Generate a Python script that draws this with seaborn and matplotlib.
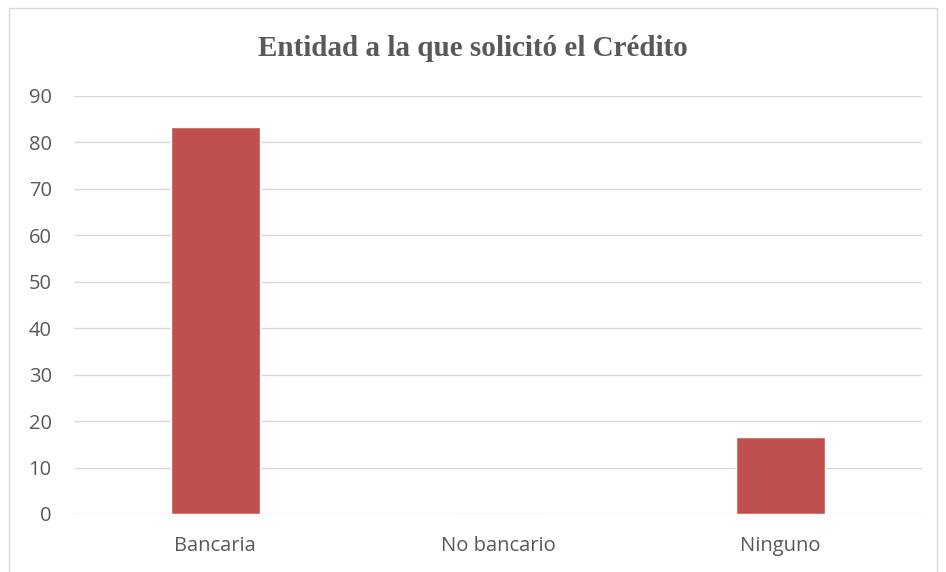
import matplotlib
matplotlib.use('Agg')
import matplotlib.pyplot as plt
import seaborn as sns
import pandas as pd
from matplotlib.patches import Rectangle

# data
categories = ['Bancaria', 'No bancario', 'Ninguno']
values = [83.33, 0.0, 16.67]
y_ticks = [0, 10, 20, 30, 40, 50, 60, 70, 80, 90]

df = pd.DataFrame({'Entidad': categories, 'Porcentaje': values})

sns.set_style('white')
plt.rcParams['font.family'] = ['Open Sans', 'DejaVu Sans']

fig = plt.figure(figsize=(9.46, 5.72), dpi=100)
ax = fig.add_axes([0.0782, 0.1014, 0.8964, 0.7308])

sns.barplot(data=df, x='Entidad', y='Porcentaje', color='#C0504D',
            width=0.315, saturation=1, ax=ax)

ax.set_ylim(0, 90)
ax.set_xlim(-0.5, 2.5)
ax.set_yticks(y_ticks)
ax.yaxis.grid(True, color='#D9D9D9', linewidth=1)
ax.set_axisbelow(True)
for s in ax.spines.values():
    s.set_visible(False)
ax.tick_params(axis='both', length=0, colors='#595959', labelsize=14.5)
ax.tick_params(axis='y', pad=16)
ax.tick_params(axis='x', pad=16)
ax.set_xlabel('')
ax.set_ylabel('')

fig.text(0.5, 0.916, 'Entidad a la que solicitó el Crédito', ha='center', va='center',
         fontsize=21, fontweight='bold', color='#595959', family='Liberation Serif')

# chart area border
fig.patches.append(Rectangle((9 / 946, -0.01), (937 - 9) / 946, 1 - 8 / 572 + 0.01,
                             transform=fig.transFigure, fill=False,
                             edgecolor='#D9D9D9', linewidth=1))

fig.savefig('out.png', dpi=100)
